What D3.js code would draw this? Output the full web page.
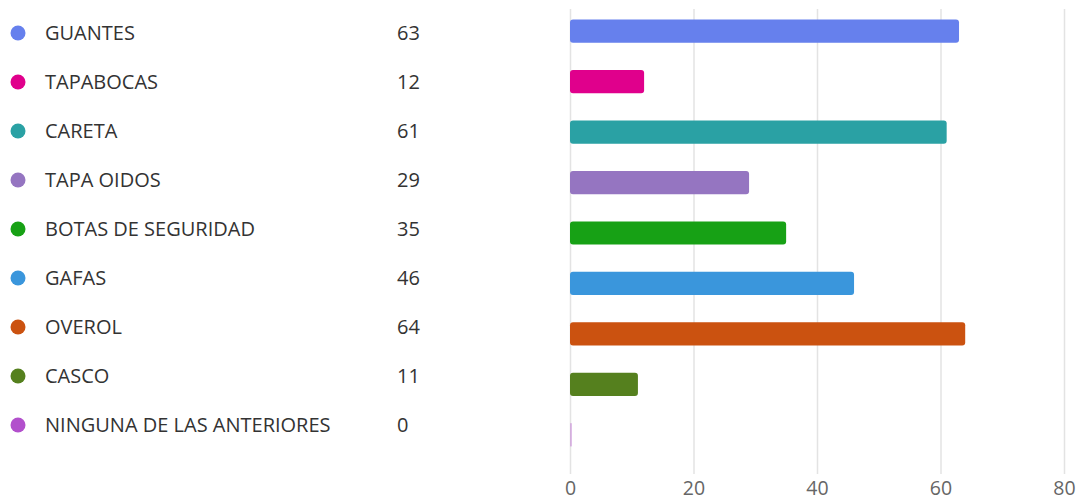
<!DOCTYPE html>
<html><head><meta charset="utf-8">
<script src="https://cdn.jsdelivr.net/npm/d3@7"></script>
<style>
html,body{margin:0;padding:0;background:#fff;}
svg{display:block;font-family:"Open Sans",sans-serif;}
</style></head>
<body>
<svg id="chart" width="1076" height="499"></svg>
<script>
const categories = ["GUANTES","TAPABOCAS","CARETA","TAPA OIDOS","BOTAS DE SEGURIDAD","GAFAS","OVEROL","CASCO","NINGUNA DE LAS ANTERIORES"];
const values = [63,12,61,29,35,46,64,11,0];
const colors = ["#6680ed","#e0008c","#2aa1a4","#9575c1","#17a115","#3a96dc","#cb5210","#55801e","#b250cc"];
const xTicks = [0,20,40,60,80];

const svg = d3.select("#chart");
const x = d3.scaleLinear().domain([0,80]).range([570,1064]);
const y = d3.scaleBand().domain(categories).range([6,460]).paddingInner(0.54).paddingOuter(0.27);
const ly = d3.scaleBand().domain(categories).range([8.5,449.5]);

// grid
const axis = d3.axisBottom(x).tickValues(xTicks).tickSize(-465);
const ag = svg.append("g").attr("transform","translate(0,474)").call(axis);
ag.select(".domain").remove();
ag.selectAll(".tick line").attr("stroke","#e3e3e3").attr("stroke-width",1.5);
ag.selectAll(".tick text").attr("fill","#666").attr("font-size",19.5).attr("font-family","'Open Sans',sans-serif").attr("y",20.5).attr("dy","0");

// bars
svg.append("g").selectAll("rect").data(categories).join("rect")
  .attr("x", x(0))
  .attr("y", d => y(d))
  .attr("height", y.bandwidth())
  .attr("width", (d,i) => Math.max(2, x(values[i]) - x(0)))
  .attr("rx", (d,i) => values[i] > 0 ? 3 : 0)
  .attr("fill", (d,i) => colors[i])
  .attr("fill-opacity", (d,i) => values[i] > 0 ? 1 : 0.35);

// legend
const lg = svg.append("g").selectAll("g").data(categories).join("g")
  .attr("transform", d => `translate(0,${ly(d) + ly.bandwidth()/2})`);
lg.append("circle").attr("cx",18).attr("cy",0).attr("r",7.5).attr("fill",(d,i)=>colors[i]);
lg.append("text").attr("x",45).attr("dy","0.35em").attr("font-size",20).attr("fill","#333").text(d=>d);
lg.append("text").attr("x",397).attr("dy","0.35em").attr("font-size",20).attr("fill","#333").text((d,i)=>values[i]);
</script>
</body></html>
